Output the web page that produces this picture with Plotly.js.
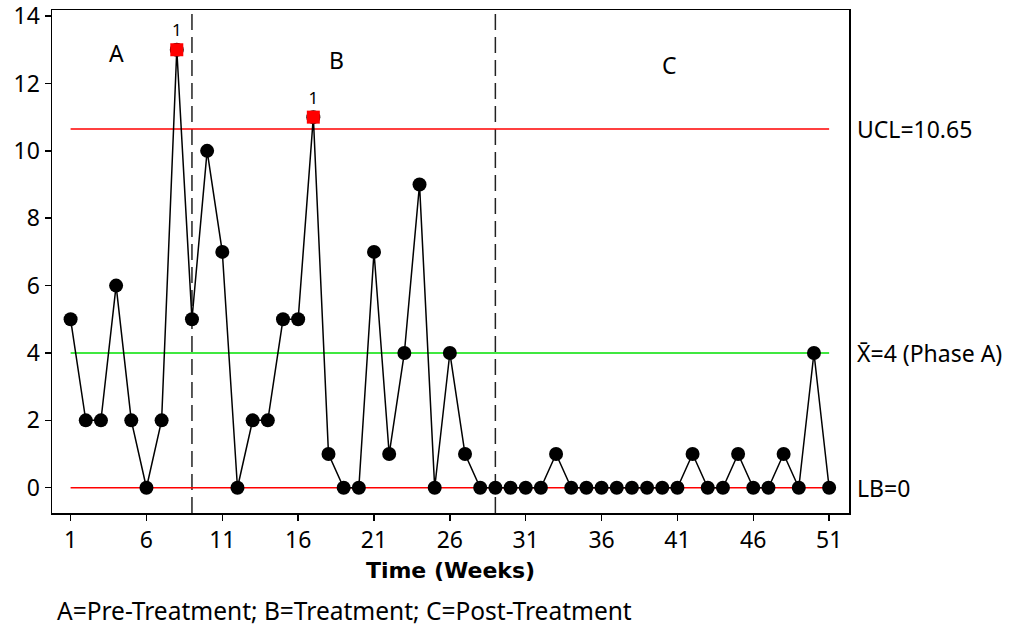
<!DOCTYPE html>
<html>
<head>
<meta charset="utf-8">
<script src="https://cdn.plot.ly/plotly-3.0.1.min.js"></script>
<style>html,body{margin:0;padding:0;background:#fff;}#chart{width:1025px;height:630px;}</style>
</head>
<body>
<div id="chart"></div>
<script>
// Data
const weeks = [1,2,3,4,5,6,7,8,9,10,11,12,13,14,15,16,17,18,19,20,21,22,23,24,25,26,27,28,29,30,31,32,33,34,35,36,37,38,39,40,41,42,43,44,45,46,47,48,49,50,51];
const counts = [5,2,2,6,2,0,2,13,5,10,7,0,2,2,5,5,11,1,0,0,7,1,4,9,0,4,1,0,0,0,0,0,1,0,0,0,0,0,0,0,0,1,0,0,1,0,0,1,0,4,0];
const UCL = 10.65;
const MEAN = 4;
const LB = 0;
const phaseBreaks = [9, 29];
const phaseNames = ['A', 'B', 'C'];
const phasePosX = [4, 18.5, 40.5];
const phasePosY = [12.9, 12.7, 12.55];
const xTicks = [1,6,11,16,21,26,31,36,41,46,51];
const yTicks = [0,2,4,6,8,10,12,14];
const rightLabels = ['UCL=10.65', 'X\u0304=4 (Phase A)', 'LB=0'];
const rightLabelValues = [UCL, MEAN, LB];
const footer = 'A=Pre-Treatment; B=Treatment; C=Post-Treatment';

const oocX = [], oocY = [];
weeks.forEach((w, i) => { if (counts[i] > UCL) { oocX.push(w); oocY.push(counts[i]); } });

const FONT = 'Noto Sans, DejaVu Sans, sans-serif';
const FS = 23;

const traces = [
  {
    x: weeks, y: counts, type: 'scatter', mode: 'lines+markers',
    line: {color: '#000', width: 1.5},
    marker: {color: '#000', size: 14, symbol: 'circle'},
    hoverinfo: 'x+y', showlegend: false
  },
  {
    x: oocX, y: oocY, type: 'scatter', mode: 'markers+text',
    marker: {color: '#ff0000', size: 13, symbol: 'square'},
    text: oocX.map(() => '1'), textposition: 'top center',
    textfont: {family: FONT, size: 17, color: '#000'},
    showlegend: false
  }
];

const shapes = [];
[[UCL, '#ff0000'], [MEAN, '#00e000'], [LB, '#ff0000']].forEach(([v, c]) => {
  shapes.push({type: 'line', xref: 'x', yref: 'y', x0: weeks[0], x1: weeks[weeks.length-1], y0: v, y1: v,
    line: {color: c, width: 1.5}, layer: 'below'});
});
phaseBreaks.forEach(b => {
  shapes.push({type: 'line', xref: 'x', yref: 'paper', x0: b, x1: b, y0: 0, y1: 1,
    line: {color: '#222', width: 1.5, dash: '16px,7px'}, layer: 'below'});
});

const annotations = [];
phaseNames.forEach((n, i) => {
  annotations.push({x: phasePosX[i], y: phasePosY[i], xref: 'x', yref: 'y', text: n, showarrow: false,
    font: {family: FONT, size: FS, color: '#000'}});
});
rightLabels.forEach((t, i) => {
  annotations.push({x: 1, y: rightLabelValues[i], xref: 'paper', yref: 'y', text: t, showarrow: false,
    xanchor: 'left', xshift: 6, font: {family: FONT, size: FS, color: '#000'}});
});
annotations.push({x: 0.0, y: 0, xref: 'paper', yref: 'paper', xanchor: 'left', yanchor: 'middle',
  xshift: 3, yshift: -(610 - 513), text: footer, showarrow: false, font: {family: FONT, size: 24.5, color: '#000'}});

const layout = {
  width: 1025, height: 630,
  margin: {l: 52, r: 176, t: 10, b: 117, pad: 0},
  paper_bgcolor: '#fff', plot_bgcolor: '#fff',
  font: {family: FONT, size: FS, color: '#000'},
  xaxis: {
    range: [-0.226, 52.31], tickmode: 'array', tickvals: xTicks,
    showgrid: false, zeroline: false, showline: true, mirror: true, linecolor: '#000', linewidth: 1.5,
    ticks: 'outside', ticklen: 6, tickwidth: 1.5, tickcolor: '#000',
    tickfont: {family: FONT, size: FS},
    title: {text: '<b>Time (Weeks)</b>', font: {family: 'DejaVu Sans, sans-serif', size: 22}, standoff: 8}
  },
  yaxis: {
    range: [-0.75, 14.18], tickmode: 'array', tickvals: yTicks,
    showgrid: false, zeroline: false, showline: true, mirror: true, linecolor: '#000', linewidth: 1.5,
    ticks: 'outside', ticklen: 6, tickwidth: 1.5, tickcolor: '#000',
    tickfont: {family: FONT, size: FS}, ticklabeloverflow: 'allow'
  },
  shapes: shapes,
  annotations: annotations,
  showlegend: false
};

Plotly.newPlot('chart', traces, layout, {displayModeBar: false, staticPlot: true});
</script>
</body>
</html>
